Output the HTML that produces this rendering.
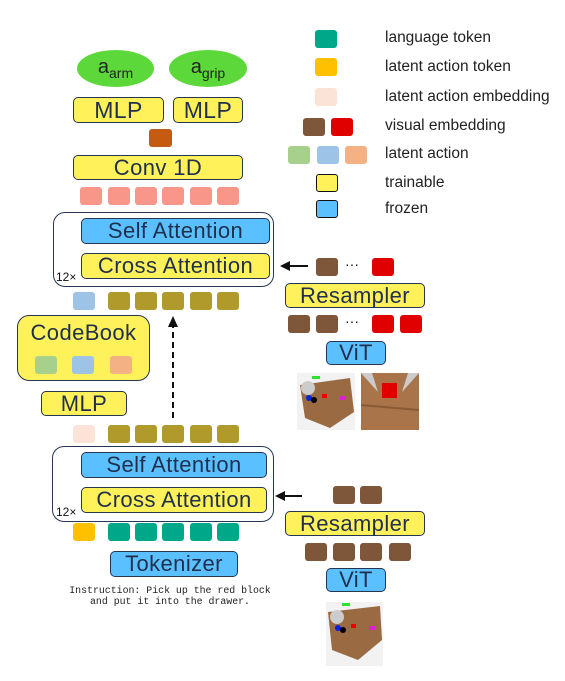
<!DOCTYPE html>
<html><head><meta charset="utf-8"><style>
body{margin:0;width:565px;height:681px;background:#fff;position:relative;overflow:hidden;font-family:"Liberation Sans","DejaVu Sans",sans-serif}
div{position:absolute;box-sizing:border-box}
.b{border:1.5px solid #253552;border-radius:5px;color:#1f2f4d;white-space:nowrap;display:flex;align-items:center;justify-content:center;font-size:22px;letter-spacing:0.4px}
.y{background:#FFF159}.bl{background:#5BC0FF}
.s{width:22px;height:18px;border-radius:3px}
.lg{font-size:15.5px;color:#222;left:385px}
.o{background:#B09A2C}.pk{background:#F8968A}.tl{background:#00A88A}.br{background:#7E5639}.rd{background:#E00000}
</style></head><body>
<!-- legend -->
<div class="s tl" style="left:315px;top:30px"></div><div class="lg" style="top:29px">language token</div>
<div class="s" style="left:315px;top:58px;background:#FFC000"></div><div class="lg" style="top:58px">latent action token</div>
<div class="s" style="left:315px;top:88px;background:#FBE3D8"></div><div class="lg" style="top:88px">latent action embedding</div>
<div class="s br" style="left:303px;top:118px"></div><div class="s rd" style="left:331px;top:118px"></div><div class="lg" style="top:117px">visual embedding</div>
<div class="s" style="left:288px;top:146px;background:#A8D08D"></div><div class="s" style="left:317px;top:146px;background:#9DC3E6"></div><div class="s" style="left:345px;top:146px;background:#F4B183"></div><div class="lg" style="top:145px">latent action</div>
<div class="s y" style="left:316px;top:174px;border:1.5px solid #111"></div><div class="lg" style="top:174px">trainable</div>
<div class="s bl" style="left:316px;top:200px;border:1.5px solid #111"></div><div class="lg" style="top:200px">frozen</div>

<!-- top -->
<div style="left:77px;top:50px;width:77px;height:37px;border-radius:50%;background:#5DD83A;text-align:center;font-size:20px;line-height:34px;color:#222">a<sub style="font-size:14px">arm</sub></div>
<div style="left:169px;top:50px;width:78px;height:37px;border-radius:50%;background:#5DD83A;text-align:center;font-size:20px;line-height:34px;color:#222">a<sub style="font-size:14px">grip</sub></div>
<div class="b y" style="left:73px;top:97px;width:91px;height:26px;font-size:23px">MLP</div>
<div class="b y" style="left:173px;top:97px;width:70px;height:26px;font-size:23px">MLP</div>
<div class="s" style="left:149px;top:129px;width:23px;background:#C55A11"></div>
<div class="b y" style="left:73px;top:155px;width:170px;height:25px">Conv 1D</div>
<div class="s pk" style="left:80px;top:187px"></div><div class="s pk" style="left:108px;top:187px"></div><div class="s pk" style="left:135px;top:187px"></div><div class="s pk" style="left:162px;top:187px"></div><div class="s pk" style="left:190px;top:187px"></div><div class="s pk" style="left:217px;top:187px"></div>

<div style="left:53px;top:212px;width:221px;height:75px;border:1.5px solid #253552;border-radius:12px"></div>
<div class="b bl" style="left:81px;top:218px;width:189px;height:26px">Self Attention</div>
<div class="b y" style="left:81px;top:253px;width:189px;height:26px">Cross Attention</div>
<div style="left:56px;top:270px;font-size:12px;color:#111">12×</div>

<div class="s" style="left:73px;top:292px;background:#9DC3E6"></div>
<div class="s o" style="left:108px;top:292px"></div><div class="s o" style="left:135px;top:292px"></div><div class="s o" style="left:162px;top:292px"></div><div class="s o" style="left:190px;top:292px"></div><div class="s o" style="left:217px;top:292px"></div>

<div class="b y" style="left:17px;top:315px;width:133px;height:66px;border-radius:12px;align-items:flex-start;padding-top:4px">CodeBook</div>
<div class="s" style="left:35px;top:356px;background:#A8D08D"></div><div class="s" style="left:72px;top:356px;background:#9DC3E6"></div><div class="s" style="left:110px;top:356px;background:#F4B183"></div>
<div class="b y" style="left:41px;top:391px;width:86px;height:25px">MLP</div>

<svg style="position:absolute;left:0;top:0" width="565" height="681">
<line x1="173" y1="418" x2="173" y2="326" stroke="#111" stroke-width="2" stroke-dasharray="6,4"/>
<polygon points="173,316 168,327 178,327" fill="#111"/>
<line x1="308" y1="266" x2="288" y2="266" stroke="#111" stroke-width="2"/>
<polygon points="280,266 290,261 290,271" fill="#111"/>
<line x1="302" y1="496" x2="283" y2="496" stroke="#111" stroke-width="2"/>
<polygon points="275,496 285,491 285,501" fill="#111"/>
<g>
<rect x="297" y="373" width="58" height="57" fill="#f2f2f2"/>
<polygon points="300,385 350,378 354,412 330,428 305,418" fill="#9a6a42"/>
<rect x="312" y="376" width="8" height="3" fill="#30e030"/>
<circle cx="308" cy="388" r="7" fill="#ccc"/><circle cx="309" cy="398" r="3" fill="#0022dd"/><circle cx="314" cy="400" r="3" fill="#000"/>
<rect x="322" y="394" width="5" height="4" fill="#e00"/><rect x="340" y="396" width="6" height="4" fill="#e020d0"/>
<rect x="361" y="373" width="58" height="57" fill="#a9744a"/>
<polygon points="361,373 372,373 378,392" fill="#ccc"/><polygon points="419,373 408,373 402,392" fill="#ccc"/>
<rect x="382" y="383" width="15" height="15" fill="#e00000"/>
<line x1="361" y1="405" x2="419" y2="410" stroke="#8a5a35" stroke-width="2"/>
</g>
<g>
<rect x="326" y="602" width="57" height="64" fill="#f2f2f2"/>
<polygon points="328,612 380,606 382,640 358,660 332,650" fill="#9a6a42"/>
<rect x="342" y="603" width="8" height="3" fill="#30e030"/>
<circle cx="337" cy="617" r="7" fill="#ccc"/><circle cx="338" cy="628" r="3" fill="#0022dd"/><circle cx="343" cy="630" r="3" fill="#000"/>
<rect x="351" y="624" width="5" height="4" fill="#e00"/><rect x="369" y="626" width="6" height="4" fill="#e020d0"/>
</g>
</svg>

<!-- right top -->
<div class="s br" style="left:316px;top:258px"></div><div style="left:345px;top:256px;font-size:14px">···</div><div class="s rd" style="left:372px;top:258px"></div>
<div class="b y" style="left:285px;top:283px;width:140px;height:25px">Resampler</div>
<div class="s br" style="left:288px;top:315px"></div><div class="s br" style="left:316px;top:315px"></div><div style="left:345px;top:313px;font-size:14px">···</div><div class="s rd" style="left:372px;top:315px"></div><div class="s rd" style="left:400px;top:315px"></div>
<div class="b bl" style="left:326px;top:341px;width:60px;height:24px">ViT</div>

<!-- bottom block -->
<div class="s" style="left:73px;top:425px;background:#FBE3D8"></div>
<div class="s o" style="left:108px;top:425px"></div><div class="s o" style="left:135px;top:425px"></div><div class="s o" style="left:162px;top:425px"></div><div class="s o" style="left:190px;top:425px"></div><div class="s o" style="left:217px;top:425px"></div>
<div style="left:52px;top:446px;width:222px;height:76px;border:1.5px solid #253552;border-radius:12px"></div>
<div class="b bl" style="left:81px;top:452px;width:186px;height:26px">Self Attention</div>
<div class="b y" style="left:81px;top:487px;width:186px;height:26px">Cross Attention</div>
<div style="left:56px;top:505px;font-size:12px;color:#111">12×</div>
<div class="s" style="left:73px;top:523px;background:#FFC000"></div>
<div class="s tl" style="left:108px;top:523px"></div><div class="s tl" style="left:135px;top:523px"></div><div class="s tl" style="left:162px;top:523px"></div><div class="s tl" style="left:190px;top:523px"></div><div class="s tl" style="left:217px;top:523px"></div>
<div class="b bl" style="left:110px;top:551px;width:128px;height:26px">Tokenizer</div>
<div style="left:60px;top:585px;width:220px;text-align:center;font-family:'Liberation Mono',monospace;font-size:9.9px;line-height:11px;color:#222">Instruction: Pick up the red block<br>and put it into the drawer.</div>

<div class="s br" style="left:333px;top:486px"></div><div class="s br" style="left:360px;top:486px"></div>
<div class="b y" style="left:285px;top:511px;width:140px;height:25px">Resampler</div>
<div class="s br" style="left:305px;top:543px"></div><div class="s br" style="left:333px;top:543px"></div><div class="s br" style="left:360px;top:543px"></div><div class="s br" style="left:389px;top:543px"></div>
<div class="b bl" style="left:326px;top:568px;width:60px;height:24px">ViT</div>
</body></html>
